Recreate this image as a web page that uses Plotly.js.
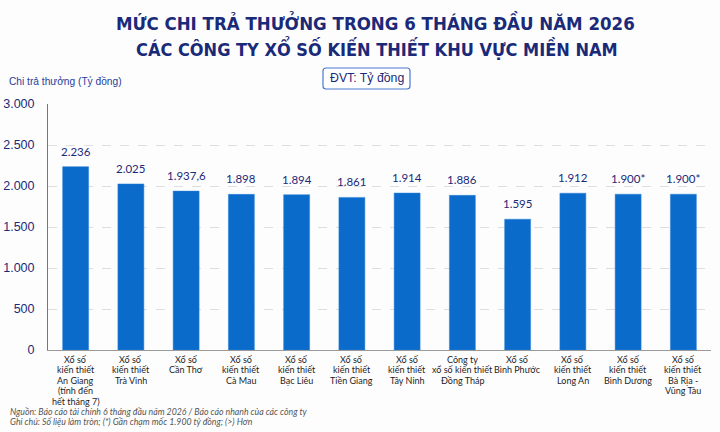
<!DOCTYPE html>
<html>
<head>
<meta charset="utf-8">
<script src="https://cdn.plot.ly/plotly-3.0.1.min.js"></script>
<style>html,body{margin:0;padding:0;background:#fdfdfe;}#chart{width:720px;height:432px;}</style>
</head>
<body>
<div id="chart"></div>
<script>
// ---- data ----
var categories = [
  "Xổ số<br>kiến thiết<br>An Giang<br>(tính đến<br>hết tháng 7)",
  "Xổ số<br>kiến thiết<br>Trà Vinh",
  "Xổ số<br>Cần Thơ",
  "Xổ số<br>kiến thiết<br>Cà Mau",
  "Xổ số<br>kiến thiết<br>Bạc Liêu",
  "Xổ số<br>kiến thiết<br>Tiền Giang",
  "Xổ số<br>kiến thiết<br>Tây Ninh",
  "Công ty<br>xổ số kiến thiết<br>Đồng Tháp",
  "Xổ số<br>Bình Phước",
  "Xổ số<br>kiến thiết<br>Long An",
  "Xổ số<br>kiến thiết<br>Bình Dương",
  "Xổ số<br>kiến thiết<br>Bà Rịa -<br>Vũng Tàu"
];
var values = [2236, 2025, 1937.6, 1898, 1894, 1861, 1914, 1886, 1595, 1912, 1900, 1900];
var valueLabels = ["2.236", "2.025", "1.937,6", "1.898", "1.894", "1.861", "1.914", "1.886", "1.595", "1.912", "1.900*", "1.900*"];
var yTicks = [0, 500, 1000, 1500, 2000, 2500, 3000];

var titleLine1 = "MỨC CHI TRẢ THƯỞNG TRONG 6 THÁNG ĐẦU NĂM 2026";
var titleLine2 = "CÁC CÔNG TY XỔ SỐ KIẾN THIẾT KHU VỰC MIỀN NAM";
var yTitle = "Chi trả thưởng (Tỷ đồng)";
var unitNote = "ĐVT: Tỷ đồng";
var source = "Nguồn: Báo cáo tài chính 6 tháng đầu năm 2026 / Báo cáo nhanh của các công ty";
var note = "Ghi chú: Số liệu làm tròn; (*) Gần chạm mốc 1.900 tỷ đồng; (>) Hơn";

// ---- styles ----
var navy = "#1b2a78";
var barColor = "#0b6bcb";
var condensed = "DejaVu Sans Condensed, DejaVu Sans, sans-serif";

function py(px) { return (350 - px) / 246; }
function pxp(px) { return (px - 48) / 663; }

var annotations = [];
// bar value labels
for (var i = 0; i < categories.length; i++) {
  annotations.push({
    x: categories[i], y: values[i], xref: "x", yref: "y",
    text: valueLabels[i], showarrow: false, yanchor: "bottom", yshift: 7,
    font: {family: "Lato, sans-serif", size: 11.5, color: navy}
  });
}
// category labels, line by line
for (var i = 0; i < categories.length; i++) {
  var lines = categories[i].split("<br>");
  for (var j = 0; j < lines.length; j++) {
    annotations.push({
      x: categories[i], y: 0, xref: "x", yref: "y",
      text: lines[j], showarrow: false, yanchor: "middle", yshift: -(9.5 + 10.4 * j),
      font: {family: "Lato, sans-serif", size: 9, color: "#1e1e1e"}
    });
  }
}
annotations.push(
  {xref: "paper", yref: "paper", x: pxp(375), y: py(22), text: "<b>" + titleLine1 + "</b>", showarrow: false,
   xanchor: "center", yanchor: "middle", font: {family: condensed, size: 18.5, color: navy}},
  {xref: "paper", yref: "paper", x: pxp(377), y: py(48), text: "<b>" + titleLine2 + "</b>", showarrow: false,
   xanchor: "center", yanchor: "middle", font: {family: condensed, size: 18, color: navy}},
  {xref: "paper", yref: "paper", x: pxp(7), y: py(81), text: yTitle, showarrow: false,
   xanchor: "left", yanchor: "middle", font: {family: "Liberation Sans, sans-serif", size: 10.2, color: "#1f3c99"}},
  {xref: "paper", yref: "paper", x: pxp(366.5), y: py(78.5), text: unitNote, showarrow: false,
   xanchor: "center", yanchor: "middle",
   font: {family: "Liberation Sans, sans-serif", size: 12.3, color: navy}},
  {xref: "paper", yref: "paper", x: pxp(8), y: py(411), text: "<i>" + source + "</i>", showarrow: false,
   xanchor: "left", yanchor: "middle", font: {family: "Lato, sans-serif", size: 8.75, color: "#555555"}},
  {xref: "paper", yref: "paper", x: pxp(8), y: py(421.5), text: "<i>" + note + "</i>", showarrow: false,
   xanchor: "left", yanchor: "middle", font: {family: "Lato, sans-serif", size: 8.75, color: "#555555"}}
);

// rounded box around the unit note
var bx0 = pxp(323), bx1 = pxp(410), by0 = py(89), by1 = py(68);
var rx = 3 / 663, ry = 3 / 246;
var boxPath = "M" + (bx0 + rx) + "," + by0 +
  " L" + (bx1 - rx) + "," + by0 + " Q" + bx1 + "," + by0 + " " + bx1 + "," + (by0 + ry) +
  " L" + bx1 + "," + (by1 - ry) + " Q" + bx1 + "," + by1 + " " + (bx1 - rx) + "," + by1 +
  " L" + (bx0 + rx) + "," + by1 + " Q" + bx0 + "," + by1 + " " + bx0 + "," + (by1 - ry) +
  " L" + bx0 + "," + (by0 + ry) + " Q" + bx0 + "," + by0 + " " + (bx0 + rx) + "," + by0 + " Z";

var trace = {
  type: "bar",
  x: categories,
  y: values,
  marker: {color: barColor, line: {color: "#2f80d6", width: 0.5}},
  hoverinfo: "none"
};

var layout = {
  width: 720, height: 432,
  margin: {l: 48, r: 9, t: 104, b: 82},
  paper_bgcolor: "#fdfdfe",
  plot_bgcolor: "#fdfdfe",
  separators: ",.",
  bargap: 0.53,
  showlegend: false,
  xaxis: {
    type: "category", showticklabels: false, ticks: "",
    showline: true, linecolor: "#9a9a9a", linewidth: 1,
    showgrid: false, zeroline: false, fixedrange: true
  },
  yaxis: {
    range: [0, 3000], tickvals: yTicks, tickformat: ",d",
    showline: true, linecolor: "#777777", linewidth: 1,
    showgrid: true, gridcolor: "#dedede", griddash: "dash", gridwidth: 1,
    zeroline: false, ticks: "", ticklabelstandoff: 10,
    tickfont: {family: "Liberation Sans, sans-serif", size: 12.5, color: navy}
  },
  shapes: [{type: "path", xref: "paper", yref: "paper", path: boxPath,
            line: {color: "#4a78d0", width: 1.2}, fillcolor: "#ffffff", layer: "below"}],
  annotations: annotations
};

Plotly.newPlot("chart", [trace], layout, {displayModeBar: false, staticPlot: true});
</script>
</body>
</html>
